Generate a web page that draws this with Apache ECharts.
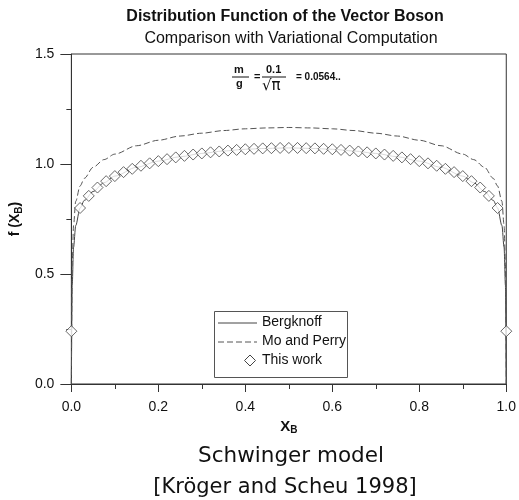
<!DOCTYPE html>
<html><head><meta charset="utf-8">
<script src="https://cdn.jsdelivr.net/npm/echarts@6/dist/echarts.min.js"></script>
<style>html,body{margin:0;padding:0;background:#fff}#c{width:519px;height:500px}</style>
</head><body><div id="c"></div>
<script>
// ---- data ----
const thisWorkX = [0.00,0.02,0.04,0.06,0.08,0.10,0.12,0.14,0.16,0.18,0.20,0.22,0.24,0.26,0.28,0.30,0.32,0.34,0.36,0.38,0.40,0.42,0.44,0.46,0.48,0.50,
  0.52,0.54,0.56,0.58,0.60,0.62,0.64,0.66,0.68,0.70,0.72,0.74,0.76,0.78,0.80,0.82,0.84,0.86,0.88,0.90,0.92,0.94,0.96,0.98,1.00];
const thisWorkY = [0.24,0.800,0.855,0.893,0.922,0.945,0.963,0.978,0.992,1.003,1.013,1.022,1.030,1.037,1.043,1.048,1.053,1.057,1.061,1.064,1.067,1.069,1.071,1.072,1.073,1.073,
  1.073,1.072,1.071,1.069,1.067,1.064,1.061,1.057,1.053,1.048,1.043,1.037,1.030,1.022,1.013,1.003,0.992,0.978,0.963,0.945,0.922,0.893,0.855,0.800,0.24];
const moPerryX = [0,0.002,0.005,0.01,0.02,0.03,0.05,0.075,0.10,0.15,0.20,0.25,0.30,0.35,0.40,0.45,0.50,0.55,0.60,0.65,0.70,0.75,0.80,0.85,0.90,0.925,0.95,0.97,0.98,0.99,0.995,0.998,1];
const moPerryY = [0,0.55,0.72,0.83,0.90,0.935,0.985,1.020,1.045,1.083,1.108,1.127,1.140,1.152,1.160,1.164,1.166,1.164,1.160,1.152,1.140,1.127,1.108,1.083,1.045,1.020,0.985,0.935,0.90,0.83,0.72,0.55,0];
const bergX = [0,0.002,0.005,0.01,0.02,0.03,0.05,0.075,0.10,0.15,0.20,0.25,0.30,0.35,0.40,0.45,0.50,0.55,0.60,0.65,0.70,0.75,0.80,0.85,0.90,0.925,0.95,0.97,0.98,0.99,0.995,0.998,1];
const bergY = [0,0.45,0.62,0.72,0.80,0.835,0.875,0.915,0.945,0.985,1.013,1.033,1.048,1.059,1.067,1.071,1.073,1.071,1.067,1.059,1.048,1.033,1.013,0.985,0.945,0.915,0.875,0.835,0.80,0.72,0.62,0.45,0];
const seriesNames = ['Bergknoff', 'Mo and Perry', 'This work'];

const zip = (xs, ys) => xs.map((x, i) => [x, ys[i]]);
const F = 'Liberation Sans, Arial, sans-serif';
const INK = '#111';
const chart = echarts.init(document.getElementById('c'));
chart.setOption({
  animation: false,
  backgroundColor: '#fff',
  title: [
    {text: 'Distribution Function of the Vector Boson', left: 280, top: 4, textAlign: 'center',
     textStyle: {fontFamily: F, fontSize: 16, fontWeight: 'bold', color: INK}},
    {text: 'Comparison with Variational Computation', left: 286, top: 26, textAlign: 'center',
     textStyle: {fontFamily: F, fontSize: 16, fontWeight: 'normal', color: INK}},
    {text: 'Schwinger model', left: 286, top: 440, textAlign: 'center',
     textStyle: {fontFamily: 'DejaVu Sans, sans-serif', fontSize: 21.5, fontWeight: 'normal', color: INK}},
    {text: '[Kröger and Scheu 1998]', left: 280, top: 472, textAlign: 'center',
     textStyle: {fontFamily: 'DejaVu Sans, sans-serif', fontSize: 21, fontWeight: 'normal', color: INK}}
  ],
  grid: {left: 70, right: 12, top: 54, bottom: 116, show: true, borderColor: '#333', borderWidth: 1},
  xAxis: {
    type: 'value', min: 0, max: 1, interval: 0.2,
    name: '{b|X}{s|B}', nameLocation: 'middle', nameGap: 28,
    nameTextStyle: {rich: {b: {fontFamily: F, fontSize: 15, fontWeight: 'bold', color: INK},
                           s: {fontFamily: F, fontSize: 10, fontWeight: 'bold', color: INK, padding: [8, 0, 0, 0]}}},
    axisLine: {lineStyle: {color: '#333'}},
    axisTick: {inside: false, length: 8, lineStyle: {color: '#333'}},
    minorTick: {show: true, splitNumber: 2, length: 5, lineStyle: {color: '#333'}},
    splitLine: {show: false},
    axisLabel: {fontFamily: F, fontSize: 14, color: INK, margin: 16, formatter: v => v.toFixed(1)}
  },
  yAxis: {
    type: 'value', min: 0, max: 1.5, interval: 0.5,
    name: '{b|f (X}{s|B}{b|)}', nameLocation: 'middle', nameGap: 47, nameRotate: 90,
    nameTextStyle: {rich: {b: {fontFamily: F, fontSize: 14, fontWeight: 'bold', color: INK},
                           s: {fontFamily: F, fontSize: 10, fontWeight: 'bold', color: INK, padding: [8, 0, 0, 0]}}},
    axisLine: {lineStyle: {color: '#333'}},
    axisTick: {inside: false, length: 11, lineStyle: {color: '#333'}},
    minorTick: {show: true, splitNumber: 2, length: 5, lineStyle: {color: '#333'}},
    splitLine: {show: false},
    axisLabel: {fontFamily: F, fontSize: 14, color: INK, margin: 17, formatter: v => v.toFixed(1)}
  },
  series: [
    {name: seriesNames[0], type: 'line', data: zip(bergX, bergY), showSymbol: false, symbol: 'none',
     smooth: 0.3, smoothMonotone: 'x', lineStyle: {color: '#444', width: 1}, itemStyle: {color: '#444'}, z: 2},
    {name: seriesNames[1], type: 'line', data: zip(moPerryX, moPerryY), showSymbol: false, symbol: 'none',
     smooth: 0.3, smoothMonotone: 'x', lineStyle: {color: '#555', width: 1, type: [6, 3]}, itemStyle: {color: '#555'}, z: 2},
    {name: seriesNames[2], type: 'scatter', data: zip(thisWorkX, thisWorkY), symbol: 'diamond', symbolSize: 11,
     itemStyle: {color: '#fff', borderColor: '#444', borderWidth: 1}, z: 3}
  ],
  graphic: [
    // equation
    {type: 'text', left: 234, top: 64, style: {text: 'm', font: 'bold 11px ' + F, fill: INK}},
    {type: 'line', shape: {x1: 232, y1: 77, x2: 249, y2: 77}, style: {stroke: INK, lineWidth: 1}},
    {type: 'text', left: 236, top: 78, style: {text: 'g', font: 'bold 11px ' + F, fill: INK}},
    {type: 'text', left: 254, top: 71, style: {text: '=', font: 'bold 11px ' + F, fill: INK}},
    {type: 'text', left: 266, top: 64, style: {text: '0.1', font: 'bold 11px ' + F, fill: INK}},
    {type: 'line', shape: {x1: 262, y1: 77, x2: 286, y2: 77}, style: {stroke: INK, lineWidth: 1}},
    {type: 'text', left: 262, top: 79, style: {text: '√π', font: '15px DejaVu Sans, sans-serif', fill: INK}},
    {type: 'text', left: 296, top: 72, style: {text: '= 0.0564..', font: 'bold 10px ' + F, fill: INK}},
    // legend box
    {type: 'rect', shape: {x: 214.5, y: 311.5, width: 133, height: 66}, style: {fill: '#fff', stroke: '#555', lineWidth: 1}, z: 10},
    {type: 'line', shape: {x1: 218, y1: 323, x2: 257, y2: 323}, style: {stroke: '#444', lineWidth: 1}, z: 11},
    {type: 'text', left: 262, top: 315, style: {text: seriesNames[0], font: '14px ' + F, fill: INK}, z: 11},
    {type: 'line', shape: {x1: 218, y1: 342, x2: 257, y2: 342}, style: {stroke: '#555', lineWidth: 1, lineDash: [6, 3]}, z: 11},
    {type: 'text', left: 262, top: 334, style: {text: seriesNames[1], font: '14px ' + F, fill: INK}, z: 11},
    {type: 'polygon', shape: {points: [[250, 355], [255.5, 360.5], [250, 366], [244.5, 360.5]]}, style: {fill: '#fff', stroke: '#444', lineWidth: 1}, z: 11},
    {type: 'text', left: 262, top: 353, style: {text: seriesNames[2], font: '14px ' + F, fill: INK}, z: 11}
  ]
});
</script></body></html>
